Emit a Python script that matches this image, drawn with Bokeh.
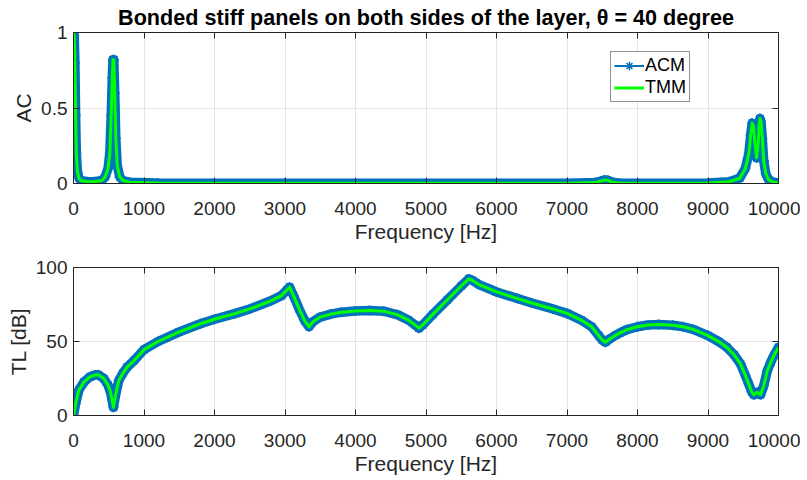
from bokeh.plotting import figure
from bokeh.layouts import column
from bokeh.models import LinearAxis, FixedTicker, Legend, LegendItem, Grid
from bokeh.embed import file_html
from bokeh.resources import INLINE

# ---------------- data ----------------
freq_ac = [0, 10, 20, 30, 40, 55, 75, 100, 200, 300, 400, 450, 490, 515, 535, 550,
           560, 572, 585, 600, 620, 655, 700, 800, 1200, 3000, 7000, 7400, 7480, 7530,
           7580, 7650, 7750, 9000, 9300, 9450, 9530, 9580, 9605, 9627, 9645, 9665, 9690,
           9710, 9725, 9737, 9752, 9770, 9790, 9820, 9860, 9920, 10000]
acm_ac = [1.0, 0.98, 0.8, 0.45, 0.2, 0.08, 0.04, 0.02, 0.012, 0.012, 0.02, 0.045, 0.1, 0.2,
          0.45, 0.7, 0.82, 0.82, 0.6, 0.3, 0.12, 0.045, 0.02, 0.008, 0.003, 0.002, 0.002,
          0.006, 0.016, 0.024, 0.021, 0.008, 0.002, 0.004, 0.012, 0.035, 0.1, 0.2, 0.32, 0.40,
          0.38, 0.27, 0.17, 0.25, 0.38, 0.43, 0.41, 0.3, 0.15, 0.065, 0.025, 0.01, 0.003]
tmm_ac = list(acm_ac)

freq_tl = [0, 30, 75, 146, 230, 300, 350, 430, 490, 525, 550, 567, 590, 620, 643, 700,
           761, 856, 1000, 1200, 1500, 1800, 2000, 2300, 2500, 2800, 2950, 3030, 3065,
           3120, 3200, 3280, 3340, 3400, 3500, 3650, 3800, 4000, 4200, 4400, 4600, 4750,
           4850, 4900, 4950, 5100, 5300, 5500, 5607, 5650, 5750, 5900, 6000, 6300, 6500,
           6800, 7000, 7200, 7350, 7450, 7500, 7546, 7600, 7700, 7760, 7850, 8000, 8150,
           8300, 8500, 8650, 8800, 9000, 9150, 9270, 9370, 9460, 9530, 9580, 9620, 9650,
           9700, 9745, 9790, 9840, 9890, 9934, 10000]
acm_tl = [0, 8, 17, 22.5, 26, 27.3, 27.5, 25, 20.5, 15.8, 10, 5.5, 12, 19, 23.6, 28.5,
          32.7, 37, 44.5, 50, 56.5, 62, 65, 69, 72, 77.5, 81, 85, 86.7,
          81, 72, 64, 60, 63.5, 66.5, 68.5, 69.8, 70.6, 71, 70.5, 68, 64.5,
          61, 59, 61, 68.5, 78, 87.5, 92.3, 91.5, 88.5, 85.5, 83.5, 79, 76,
          72, 69, 64.5, 60, 54, 51, 49.5, 51.5, 54.5, 56, 58, 60, 61.2,
          61.5, 61, 60, 58, 54, 50, 46, 41, 35, 27, 21, 16, 14,
          15.7, 14, 20, 30, 36, 40.5, 46]
tmm_tl = list(acm_tl)

x_ticks = [0, 1000, 2000, 3000, 4000, 5000, 6000, 7000, 8000, 9000, 10000]
ac_ticks = [0, 0.5, 1]
ac_tick_labels = ["0", "0.5", "1"]
tl_ticks = [0, 50, 100]
tl_tick_labels = ["0", "50", "100"]

title_text = "Bonded stiff panels on both sides of the layer, \u03b8 = 40 degree"
series_names = ["ACM", "TMM"]

# ---------------- style ----------------
BLUE = "#0072BD"
GREEN = "#00FF00"
AXC = "#262626"
GRID = "#e4e4e4"
FONT = "Liberation Sans"
FRAME_W = 705


def make_fig(frame_h, top, bottom, y_range, y_ticks, y_labels, ylabel):
    p = figure(frame_width=FRAME_W, frame_height=frame_h, x_range=(0, 10000), y_range=y_range,
               min_border_left=73, min_border_right=22, min_border_top=top,
               min_border_bottom=bottom, output_backend="svg", toolbar_location=None,
               x_axis_type=None, y_axis_type=None)
    p.outline_line_color = AXC
    p.outline_line_width = 1
    p.background_fill_color = "white"
    p.border_fill_color = "white"
    xt = FixedTicker(ticks=x_ticks)
    yt = FixedTicker(ticks=y_ticks)
    p.add_layout(Grid(dimension=0, ticker=xt, grid_line_color=GRID, grid_line_width=1))
    p.add_layout(Grid(dimension=1, ticker=yt, grid_line_color=GRID, grid_line_width=1))
    overrides = {t: l for t, l in zip(y_ticks, y_labels)}
    for loc in ["below", "above", "left", "right"]:
        ax = LinearAxis(ticker=xt if loc in ("below", "above") else yt)
        ax.axis_line_color = AXC
        ax.major_tick_line_color = AXC
        ax.major_tick_in = 6
        ax.major_tick_out = 0
        ax.minor_tick_line_color = None
        ax.major_label_text_font = FONT
        ax.major_label_text_color = AXC
        ax.axis_label_text_font = FONT
        ax.axis_label_text_color = AXC
        ax.axis_label_text_font_style = "normal"
        ax.axis_label_text_font_size = "21px"
        if loc in ("above", "right"):
            ax.major_label_text_font_size = "0px"
            ax.major_label_text_color = None
            ax.major_label_standoff = 0
        else:
            ax.major_label_text_font_size = "19px"
        if loc == "below":
            ax.major_label_standoff = 18
            ax.axis_label = "Frequency [Hz]"
            ax.axis_label_standoff = 2
        if loc == "left":
            ax.major_label_standoff = 6
            ax.major_label_overrides = overrides
            ax.axis_label = ylabel
            ax.axis_label_standoff = 3
        p.add_layout(ax, loc)
    return p


def draw_series(p, fx, acm, tmm):
    band = p.line(fx, acm, line_color=BLUE, line_width=9.5, line_join="round", line_cap="round")
    stars = p.scatter(fx, acm, marker="asterisk", size=10, line_color=BLUE, line_width=1.5)
    green = p.line(fx, tmm, line_color=GREEN, line_width=3, line_join="round")
    return band, stars, green


# top: AC
p1 = make_fig(151, 32, 66, (0, 1), ac_ticks, ac_tick_labels, "AC")
draw_series(p1, freq_ac, acm_ac, tmm_ac)

p1.title.text = title_text
p1.title.align = "center"
p1.title.text_font = FONT
p1.title.text_font_style = "bold"
p1.title.text_font_size = "21.6px"
p1.title.text_color = "black"
p1.title.standoff = 5

# legend with thin sample glyphs (hidden renderers, used only for the legend)
leg_line = p1.line(freq_ac, acm_ac, line_color=BLUE, line_width=2, visible=False)
leg_star = p1.scatter(freq_ac, acm_ac, marker="asterisk", size=8, line_color=BLUE,
                      line_width=1.5, visible=False)
leg_tmm = p1.line(freq_ac, tmm_ac, line_color=GREEN, line_width=3, visible=False)
legend = Legend(items=[LegendItem(label=series_names[0], renderers=[leg_line, leg_star]),
                       LegendItem(label=series_names[1], renderers=[leg_tmm])],
                location=(537, 81), orientation="vertical")
legend.label_text_font = FONT
legend.label_text_font_size = "18px"
legend.label_text_color = "black"
legend.glyph_width = 30
legend.glyph_height = 21
legend.label_height = 21
legend.label_standoff = 1
legend.padding = 3
legend.spacing = 1
legend.margin = 0
legend.border_line_color = AXC
legend.border_line_width = 1
legend.background_fill_color = "white"
legend.background_fill_alpha = 1
p1.add_layout(legend)

# bottom: TL
p2 = make_fig(148, 18, 64, (0, 100), tl_ticks, tl_tick_labels, "TL [dB]")
draw_series(p2, freq_tl, acm_tl, tmm_tl)

layout = column(p1, p2, spacing=0)
open("out.html", "w").write(file_html(layout, INLINE))
